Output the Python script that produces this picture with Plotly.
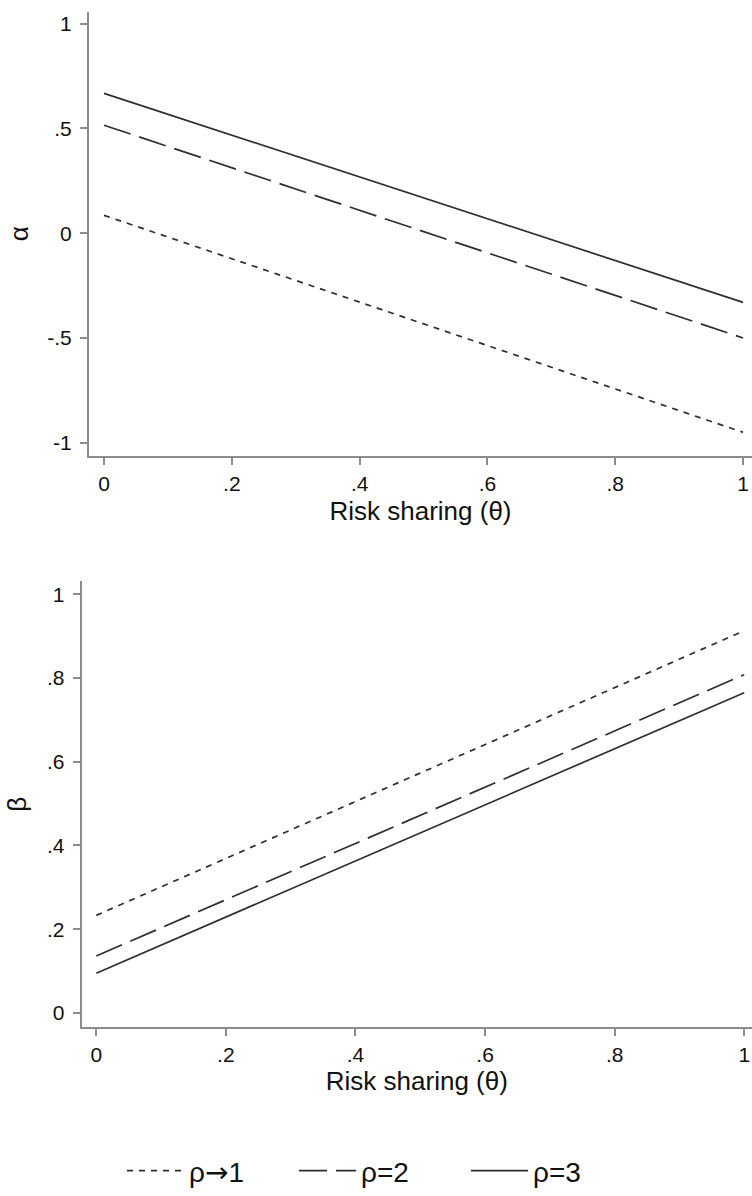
import plotly.graph_objects as go

# ---- data ----
theta = [0, 1]
alpha_rho1 = [0.085, -0.95]
alpha_rho2 = [0.515, -0.50]
alpha_rho3 = [0.667, -0.33]
beta_rho1 = [0.233, 0.913]
beta_rho2 = [0.136, 0.808]
beta_rho3 = [0.095, 0.765]
series_names = ["ρ<span style='font-family:DejaVu Sans'>→</span>1", "ρ=2", "ρ=3"]

x_tickvals = [0, 0.2, 0.4, 0.6, 0.8, 1]
x_ticktext = ["0", ".2", ".4", ".6", ".8", "1"]
ya_tickvals = [-1, -0.5, 0, 0.5, 1]
ya_ticktext = ["-1", "-.5", "0", ".5", "1"]
yb_tickvals = [0, 0.2, 0.4, 0.6, 0.8, 1]
yb_ticktext = ["0", ".2", ".4", ".6", ".8", "1"]

line_color = "#2e2e2e"
axis_color = "#8c8c8c"
text_color = "#111111"
font_family = "Liberation Sans, Arial, sans-serif"

styles = [
    dict(color=line_color, width=1.7, dash="6px,6px"),
    dict(color=line_color, width=1.7, dash="28px,9px"),
    dict(color=line_color, width=1.7),
]

fig = go.Figure()

alpha_series = [alpha_rho1, alpha_rho2, alpha_rho3]
beta_series = [beta_rho1, beta_rho2, beta_rho3]

for name, ys, st in zip(series_names, alpha_series, styles):
    fig.add_trace(go.Scatter(x=theta, y=ys, mode="lines", name=name, line=st,
                             xaxis="x", yaxis="y", showlegend=True, legendgroup=name))
for name, ys, st in zip(series_names, beta_series, styles):
    fig.add_trace(go.Scatter(x=theta, y=ys, mode="lines", name=name, line=st,
                             xaxis="x2", yaxis="y2", showlegend=False, legendgroup=name))

W, H = 752, 1196


def px_x(p):
    return p / W


def px_y(p):
    return 1 - p / H


axis_common = dict(
    showline=True, linecolor=axis_color, linewidth=2, mirror=False,
    ticks="outside", ticklen=7, tickwidth=1.5, tickcolor=axis_color,
    showgrid=False, zeroline=False, ticklabeloverflow="allow",
    tickfont=dict(size=21, color=text_color, family=font_family),
    title_font=dict(size=26, color=text_color, family=font_family),
)

fig.update_layout(
    width=W, height=H,
    paper_bgcolor="white", plot_bgcolor="white",
    margin=dict(l=0, r=0, t=0, b=0),
    font=dict(family=font_family, color=text_color),
    xaxis=dict(domain=[px_x(89), 1], anchor="y", range=[-0.0235, 1.014],
               tickvals=x_tickvals, ticktext=x_ticktext, ticklabelstandoff=1,
               title=dict(text="Risk sharing (θ)", standoff=8), **axis_common),
    yaxis=dict(domain=[px_y(460), px_y(11.7)], anchor="x", range=[-1.062, 1.057],
               tickvals=ya_tickvals, ticktext=ya_ticktext, ticklabelstandoff=4,
               title=dict(text="α", standoff=11), **axis_common),
    xaxis2=dict(domain=[px_x(81.7), 1], anchor="y2", range=[-0.0225, 1.012],
                tickvals=x_tickvals, ticktext=x_ticktext, ticklabelstandoff=1,
                title=dict(text="Risk sharing (θ)", standoff=3), **axis_common),
    yaxis2=dict(domain=[px_y(1036.7), px_y(586.7)], anchor="x2", range=[-0.034, 1.031],
                tickvals=yb_tickvals, ticktext=yb_ticktext, ticklabelstandoff=4,
                title=dict(text="β", standoff=13), **axis_common),
    legend=dict(orientation="h", x=px_x(380), xanchor="center", y=px_y(1182), yanchor="middle",
                font=dict(size=28, color=text_color, family=font_family),
                itemwidth=57, entrywidth=100, entrywidthmode="pixels",
                bgcolor="rgba(0,0,0,0)", traceorder="normal"),
    showlegend=True,
)

fig.write_html(
    "out.html",
    config={"displayModeBar": False},
    post_script=(
        "document.documentElement.style.margin='0';"
        "document.documentElement.style.padding='0';"
        "document.documentElement.style.overflow='hidden';"
        "document.body.style.margin='0';"
        "document.body.style.padding='0';"
        "document.body.style.overflow='hidden';"
    ),
)
